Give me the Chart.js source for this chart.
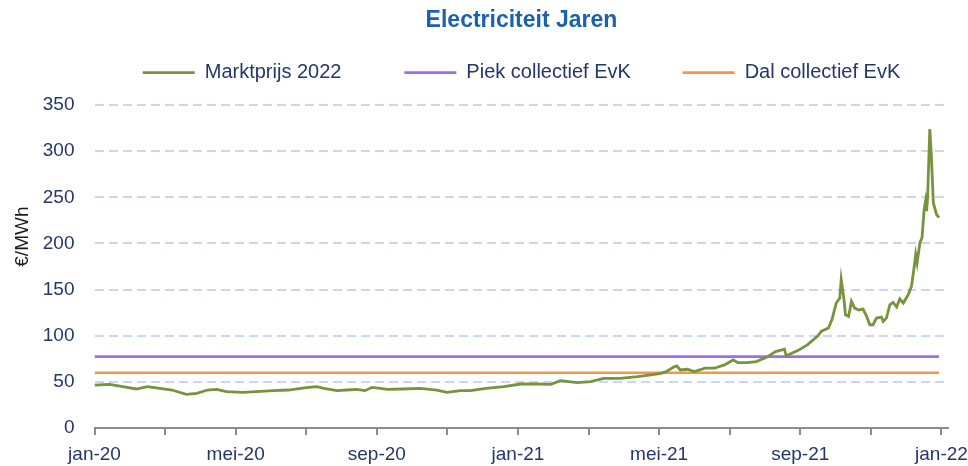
<!DOCTYPE html>
<html>
<head>
<meta charset="utf-8">
<script src="https://cdn.jsdelivr.net/npm/chart.js@4/dist/chart.umd.min.js"></script>
<style>
  body { margin: 0; background: #fff; }
  #wrap { width: 968px; height: 466px; }
</style>
</head>
<body>
<div id="wrap"><canvas id="graph"></canvas></div>
<script>
// maanden vanaf jan-20 (0 = jan-20, 24 = jan-22)
const months = [
  0, 0.43, 0.8, 1.18, 1.5, 1.85, 2.2, 2.6, 2.9, 3.2, 3.46, 3.74, 4.2, 4.6, 5.06, 5.5,
  6.0, 6.3, 6.5, 6.87, 7.15, 7.43, 7.67, 7.86, 8.1, 8.3, 8.75, 9.23, 9.7, 9.99, 10.37,
  10.65, 11.1, 11.6, 12.08, 12.55, 12.93, 13.2, 13.68, 14.06, 14.43, 14.9, 15.39, 15.77,
  16.05, 16.2, 16.4, 16.5, 16.6, 16.8, 17.0, 17.3, 17.57, 17.85, 18.1, 18.23, 18.5,
  18.75, 19.03, 19.3, 19.55, 19.6, 19.93, 20.2, 20.5, 20.6, 20.8, 20.9, 21.02, 21.12,
  21.16, 21.24, 21.28, 21.37, 21.45, 21.54, 21.66, 21.78, 21.88, 21.97, 22.06, 22.16,
  22.3, 22.35, 22.44, 22.54, 22.63, 22.73, 22.82, 22.92, 23.06, 23.15, 23.23, 23.27,
  23.31, 23.39, 23.45, 23.51, 23.55, 23.58, 23.61, 23.67, 23.72, 23.77, 23.86, 23.93
];
const marktprijs = [
  46.7, 47.5, 44.9, 42.4, 44.9, 43.1, 41.3, 36.6, 37.7, 41.3, 42, 39.5, 38.8, 39.5, 40.6, 41.3,
  43.8, 44.9, 43.1, 40.6, 41.3, 42, 40.6, 44.2, 43.1, 42, 42.4, 43.1, 41.3, 38.8, 40.6,
  40.6, 43.1, 44.9, 47.8, 47.8, 47.5, 51.4, 49.3, 50.4, 54, 54, 55.8, 57.6,
  59.4, 61.2, 66, 67.4, 63, 63.8, 61.2, 64.9, 64.9, 68.5, 73.9, 71, 71,
  72, 76.4, 82.9, 85.5, 78.3, 84, 90.2, 100, 105, 108.4, 118, 135.5, 141,
  160.9, 139, 122.8, 121, 137.3, 130, 128, 129, 121, 112, 112, 119.2,
  120.3, 115.5, 119.2, 133.7, 136.2, 131.2, 139.9, 135.5, 144.6, 153.6, 175.3, 188,
  179, 200.8, 206.2, 237, 246, 235, 251.4, 324, 291, 244, 231.5, 228
];
const piekEvK = 77.5;
const dalEvK = 60;
const monthLabels = ['jan', 'feb', 'mrt', 'apr', 'mei', 'jun', 'jul', 'aug', 'sep', 'okt', 'nov', 'dec'];
const yTicks = [0, 50, 100, 150, 200, 250, 300, 350];

const lastMonth = months[months.length - 1];
const navy = '#243769';
// extra ruimte achter elk legenda-item (in spaties), zoals in Excel
const legendGaps = [7, 5, 0];

new Chart(document.getElementById('graph'), {
  type: 'line',
  data: {
    datasets: [
      {
        label: 'Marktprijs 2022',
        data: months.map((m, i) => ({x: m, y: marktprijs[i]})),
        borderColor: '#77933C',
        backgroundColor: '#77933C',
        borderWidth: 2.8,
      },
      {
        label: 'Piek collectief EvK',
        data: [{x: 0, y: piekEvK}, {x: lastMonth, y: piekEvK}],
        borderColor: '#9C6CF2',
        backgroundColor: '#9C6CF2',
        borderWidth: 2.6,
      },
      {
        label: 'Dal collectief EvK',
        data: [{x: 0, y: dalEvK}, {x: lastMonth, y: dalEvK}],
        borderColor: '#F79646',
        backgroundColor: '#F79646',
        borderWidth: 2.6,
      },
    ],
  },
  options: {
    responsive: true,
    maintainAspectRatio: false,
    animation: false,
    elements: { point: { radius: 0 }, line: { tension: 0 } },
    layout: { padding: { left: 4, right: 0, top: 0, bottom: 0 } },
    plugins: {
      tooltip: { enabled: false },
      title: {
        display: true,
        text: 'Electriciteit Jaren',
        color: '#1B62AC',
        fullSize: false,
        font: { family: 'Liberation Sans', size: 23, weight: 'bold' },
        padding: { top: 7, bottom: 4 },
      },
      legend: {
        fullSize: false,
        labels: {
          usePointStyle: true,
          pointStyle: 'line',
          pointStyleWidth: 52,
          padding: 24,
          color: navy,
          font: { family: 'Liberation Sans', size: 20 },
          generateLabels: chart => {
            const items = Chart.defaults.plugins.legend.labels.generateLabels(chart);
            items.forEach((it, i) => { it.text = it.text + ' '.repeat(legendGaps[i]); });
            return items;
          },
        },
      },
    },
    scales: {
      x: {
        type: 'linear',
        min: 0,
        max: 24.2,
        afterBuildTicks: scale => {
          scale.ticks = [];
          for (let m = 0; m <= 24; m += 2) scale.ticks.push({value: m});
        },
        ticks: {
          color: navy,
          padding: 0,
          maxRotation: 0,
          autoSkip: false,
          font: { family: 'Liberation Sans', size: 19, lineHeight: 1.15 },
          callback: v => v % 4 === 0 ? monthLabels[v % 12] + '-' + String(20 + Math.floor(v / 12)) : '',
        },
        grid: {
          drawOnChartArea: false,
          color: '#8C8C8C',
          lineWidth: 2,
          tickLength: 16,
          tickBorderDash: [6, 60],
        },
        border: { color: '#8C8C8C', width: 2 },
      },
      y: {
        min: 0,
        max: 363.4,
        afterBuildTicks: scale => { scale.ticks = yTicks.map(v => ({value: v})); },
        ticks: {
          color: navy,
          padding: 20,
          font: { family: 'Liberation Sans', size: 19 },
        },
        grid: { color: '#C6D9F1', lineWidth: 2, drawTicks: false },
        border: { display: false, dash: [9, 5] },
        title: {
          display: true,
          text: '         €/MWh',
          color: '#1a1a1a',
          font: { family: 'Liberation Sans', size: 19 },
          padding: { top: 7, bottom: -11 },
        },
      },
    },
  },
});
</script>
</body>
</html>
